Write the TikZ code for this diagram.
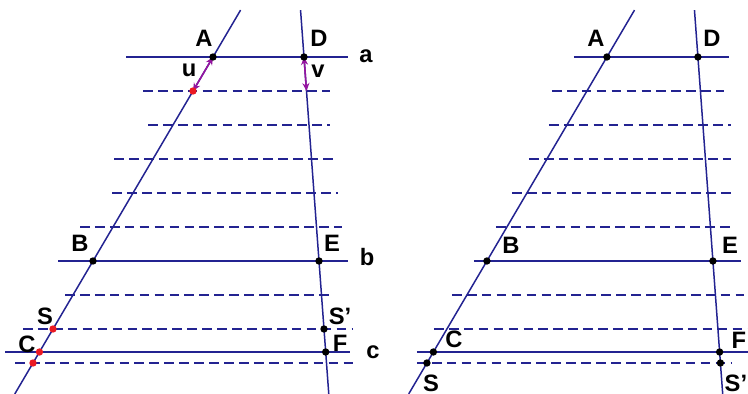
\documentclass[tikz,border=0pt]{standalone}
\usepackage{fontspec}
\setsansfont{Liberation Sans}
\usetikzlibrary{arrows.meta,calc}
\definecolor{linec}{RGB}{35,35,145}
\definecolor{vecc}{RGB}{150,20,160}
\definecolor{markc}{RGB}{235,25,35}

\begin{document}
\begin{tikzpicture}[x=0.02cm,y=-0.02cm,
  font=\sffamily\bfseries\fontsize{13.5}{16}\selectfont,
  ln/.style={draw=linec,line width=0.85pt},
  par/.style={draw=linec,line width=0.85pt,dash pattern=on 5.5pt off 3pt},
  pt/.style={circle,fill=black,inner sep=0pt,minimum size=4.2pt},
  rpt/.style={circle,fill=markc,inner sep=0pt,minimum size=4.2pt},
  vec/.style={draw=vecc,line width=0.9pt,{Stealth[length=4.5pt,width=4pt]}-{Stealth[length=4.5pt,width=4pt]}},
  lbl/.style={inner sep=0pt}]
\useasboundingbox (0,0) rectangle (748,394);

%============================== left: vectors u and v ==============================
\coordinate (Al) at (213,57);  \coordinate (Bl) at (93,261);
\coordinate (Dl) at (304,57);  \coordinate (El) at (319,261);
\coordinate (Ul) at ($(Al)!1/6!(Bl)$);  \coordinate (Vl) at ($(Dl)!1/6!(El)$);
\coordinate (Sl) at ($(Al)!1.3333!(Bl)$); \coordinate (Sql) at ($(Dl)!1.3333!(El)$);
\coordinate (Cl) at ($(Al)!1.4461!(Bl)$); \coordinate (Fl) at ($(Dl)!1.4461!(El)$);
\coordinate (Tl) at ($(Al)!1.5!(Bl)$);

\draw[ln] ($(Al)!-0.23!(Bl)$) -- ($(Al)!1.652!(Bl)$);
\draw[ln] ($(Dl)!-0.23!(El)$) -- ($(Dl)!1.652!(El)$);

\draw[ln] (126,57) -- (348,57);
\draw[ln] (58,261) -- (348,261);
\draw[ln] (5,352) -- (350,352);
\foreach \y/\xa/\xb in {91/143/330,125/148/330,159/114/338,193/112/338,
                        227/80/342,295/65/330,329/23/353,363/15/353}
  \draw[par] (\xa,\y) -- (\xb,\y);

\draw[vec] (Al) -- (Ul);
\draw[vec] (Dl) -- (Vl);

\foreach \p in {Al,Dl,Bl,El,Sql,Fl} \node[pt] at (\p) {};
\foreach \p in {Ul,Sl,Cl,Tl} \node[rpt] at (\p) {};

\node[lbl] (lA) at (204,38) {A};
\node[lbl] (lD) at (319,38) {D};
\node[lbl] (lu) at (189,70) {u};
\node[lbl] (lv) at (318,71) {v};
\node[lbl] (la) at (366,56) {a};
\node[lbl] (lB) at (80,243) {B};
\node[lbl] (lE) at (332,243) {E};
\node[lbl] (lb) at (367,257) {b};
\node[lbl] (lS) at (45,316) {S};
\node[lbl] (lSq) at (340,316) {S'};
\node[lbl] (lC) at (27,344) {C};
\node[lbl] (lF) at (340,343) {F};
\node[lbl] (lc) at (373,352) {c};

%============================== right: S and S' placed ==============================
\begin{scope}[xshift=7.88cm]
\coordinate (Ar) at (213,57);  \coordinate (Br) at (93,261);
\coordinate (Dr) at (304,57);  \coordinate (Er) at (319,261);
\coordinate (Cr) at ($(Ar)!1.4461!(Br)$); \coordinate (Fr) at ($(Dr)!1.4461!(Er)$);
\coordinate (Sr) at ($(Ar)!1.5!(Br)$);    \coordinate (Sqr) at ($(Dr)!1.5!(Er)$);

\draw[ln] ($(Ar)!-0.23!(Br)$) -- ($(Ar)!1.652!(Br)$);
\draw[ln] ($(Dr)!-0.23!(Er)$) -- ($(Dr)!1.652!(Er)$);

\draw[ln] (180,57) -- (335,57);
\draw[ln] (80,261) -- (347,261);
\draw[ln] (23,352) -- (354,352);
\foreach \y/\xa/\xb in {91/158/330,125/155/337,159/135/337,193/118/337,
                        227/102/337,295/58/350,329/40/354,363/23/337}
  \draw[par] (\xa,\y) -- (\xb,\y);

\foreach \p in {Ar,Dr,Br,Er,Cr,Fr,Sr,Sqr} \node[pt] at (\p) {};

\node[lbl] (rA) at (202,38) {A};
\node[lbl] (rD) at (318,38) {D};
\node[lbl] (rB) at (117,245) {B};
\node[lbl] (rE) at (336,245) {E};
\node[lbl] (rC) at (60,339) {C};
\node[lbl] (rF) at (345,340) {F};
\node[lbl] (rS) at (37,383) {S};
\node[lbl] (rSq) at (342,383) {S'};
\end{scope}
\end{tikzpicture}
\end{document}
